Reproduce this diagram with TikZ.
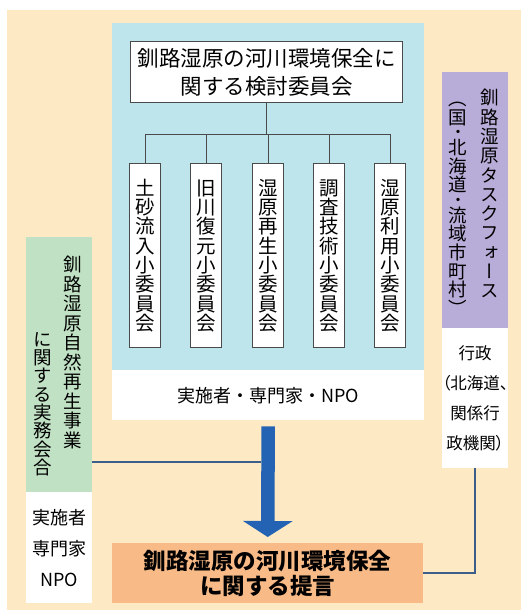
\documentclass[tikz,border=0pt]{standalone}
\usepackage{fontspec}
\usetikzlibrary{arrows.meta}
\setmainfont{Noto Sans CJK JP}
\newfontfamily\vjp[RawFeature=+vert]{Noto Sans CJK JP}
\newfontfamily\pjp[RawFeature=+palt]{Noto Sans CJK JP}
\definecolor{cream}{HTML}{FDEAC4}
\definecolor{panelblue}{HTML}{BEE4EC}
\definecolor{jmgreen}{HTML}{C0E1C3}
\definecolor{tfpurple}{HTML}{B8ACD8}
\definecolor{proporange}{HTML}{F8BA86}
\definecolor{arrowblue}{HTML}{2463B3}
\definecolor{linkblue}{HTML}{3C5E8A}
\definecolor{treegray}{HTML}{4A4A4A}
\newlength\vpitch
\newcommand\vstrut{\vrule height .88em depth .12em width 0pt\relax}
\newcommand\vch[1]{\vbox to \vpitch{\vss\hbox to 1em{\hss\vstrut#1\hss}\vss}}
\newcommand\vchb[1]{\vbox to .5\vpitch{\vss\hbox to 1em{\hss\vstrut#1\hss}}}
\newcommand\vcht[1]{\vbox to .5\vpitch{\hbox to 1em{\hss\vstrut#1\hss}\vss}}
\newcommand\vdot{\vbox to .64\vpitch{\vss\hbox to 1em{\hss{\bfseries\fontsize{12}{12}\selectfont\vstrut ・}\hss}\vss}}
\def\vcolA#1{\ifx\relax#1\else\vch{#1}\expandafter\vcolA\fi}
\newcommand\vcol[2][19.3pt]{\setlength\vpitch{#1}\vbox{\offinterlineskip\vcolA#2\relax}}
\begin{document}
\begin{tikzpicture}[x=1pt,y=-1pt,
  panel/.style={draw=none, inner sep=0pt, anchor=north west},
  subbox/.style={draw=treegray, line width=1pt, fill=white, inner sep=0pt,
    minimum width=31pt, minimum height=184pt, anchor=north,
    font=\vjp\fontsize{19.5}{19.5}\selectfont},
  vtext/.style={inner sep=0pt, anchor=north, font=\vjp\fontsize{18.5}{18.5}\selectfont},
  tree/.style={draw=treegray, line width=1pt},
  link/.style={draw=linkblue, line width=1.8pt},
  bigarrow/.style={draw=arrowblue, line width=13.5pt,
    -{Triangle[width=49pt,length=16pt]}},
  ]
\useasboundingbox (0,0) rectangle (521,610);
\fill[white] (0,0) rectangle (521,610);
\fill[cream] (7,10) rectangle (521,610);

% committee panel
\node[panel, fill=panelblue, minimum width=312pt, minimum height=347pt] (panel) at (112,23) {};
\node[panel, fill=white, minimum width=312pt, minimum height=50pt,
  font=\fontsize{18}{20}\selectfont] (staff) at (112,370) {実施者・専門家・NPO};
\node[panel, draw=treegray, line width=1pt, fill=white, minimum width=272pt,
  minimum height=61pt, align=center, font=\fontsize{21.5}{28}\selectfont]
  (title) at (130,41) {釧路湿原の河川環境保全に\\関する検討委員会};

\node[subbox] (s1) at (145,163) {\vcol{土砂流入小委員会}};
\node[subbox] (s2) at (206,163) {\vcol{旧川復元小委員会}};
\node[subbox] (s3) at (268,163) {\vcol{湿原再生小委員会}};
\node[subbox] (s4) at (329,163) {\vcol{調査技術小委員会}};
\node[subbox] (s5) at (390,163) {\vcol{湿原利用小委員会}};

\coordinate (bus) at (268,134);
\draw[tree] (title.south) -- (title.south |- bus);
\draw[tree] (s1.north) |- (s5.north |- bus) -- (s5.north);
\foreach \s in {s2,s3,s4} \draw[tree] (\s.north) -- (\s.north |- bus);

% task force
\node[panel, fill=tfpurple, minimum width=66pt, minimum height=256pt] (tf) at (442,72) {};
\node[vtext] (tf1) at (490,88) {\vcol{釧路湿原タスクフォース}};
\node[vtext] (tf2) at (458,96) {\setlength\vpitch{18.6pt}\vbox{\offinterlineskip
  \vchb{（}\vch{国}\vdot\vch{北}\vch{海}\vch{道}\vdot\vch{流}\vch{域}\vch{市}\vch{町}\vch{村}\vcht{）}}};
\node[panel, fill=white, minimum width=66pt, minimum height=140pt, align=center,
  font=\pjp\fontsize{16.5}{30}\selectfont] (gov) at (442,328)
  {行政\\（北海道、\\関係行\\政機関）};

% practical meeting
\node[panel, fill=jmgreen, minimum width=66pt, minimum height=255pt] (jm) at (26,237) {};
\node[vtext] (jm1) at (73,255) {\vcol[19.5pt]{釧路湿原自然再生事業}};
\node[vtext] (jm2) at (43,330) {\vcol[18.3pt]{に関する実務会合}};
\node[panel, fill=white, minimum width=66pt, minimum height=111pt, align=center,
  font=\fontsize{18}{31}\selectfont] (jmstaff) at (26,492) {実施者\\専門家\\NPO};

% proposal
\node[panel, fill=proporange, minimum width=311pt, minimum height=60pt, align=center,
  font=\bfseries\fontsize{22.5}{25.5}\selectfont] (prop) at (112,543)
  {釧路湿原の河川環境保全\\に関する提言};

% connectors
\draw[bigarrow] ([yshift=-6pt]staff.south) -- ([yshift=6pt]prop.north);
\coordinate (jy) at (261,462);
\draw[link] (jm.east |- jy) -- (jy);
\draw[link] (gov.south) |- (prop.east);
\end{tikzpicture}
\end{document}
